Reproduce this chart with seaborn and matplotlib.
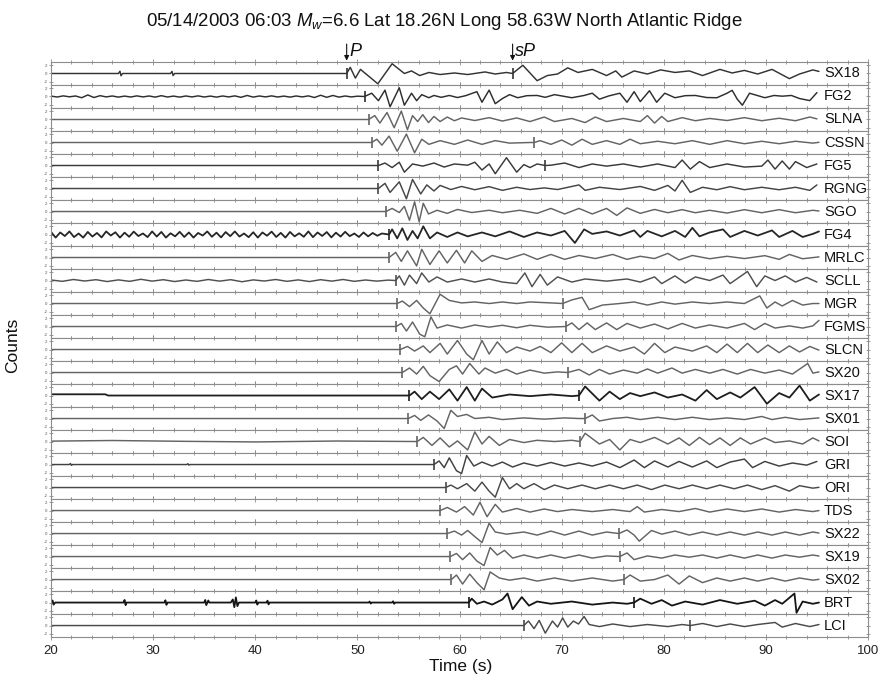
import numpy as np
import pandas as pd
import matplotlib
matplotlib.use("Agg")
import matplotlib.pyplot as plt
from matplotlib.transforms import blended_transform_factory
import seaborn as sns

# ---------------------------------------------------------------- data
STATIONS = ["SX18", "FG2", "SLNA", "CSSN", "FG5", "RGNG", "SGO", "FG4", "MRLC",
            "SCLL", "MGR", "FGMS", "SLCN", "SX20", "SX17", "SX01", "SOI", "GRI",
            "ORI", "TDS", "SX22", "SX19", "SX02", "BRT", "LCI"]

# first-arrival (P) picks, s
P_PICK = [48.95, 50.7, 51.1, 51.4, 52.06, 52.06, 52.8, 53.1, 53.1, 53.75, 53.9,
          53.8, 54.2, 54.4, 55.1, 55.0, 55.85, 57.5, 58.65, 58.1, 58.8, 59.1,
          59.2, 60.9, 66.3]

# depth-phase (sP) picks, s
SP_PICK = [65.2, None, None, 67.3, 68.4, None, None, None, None, None, 70.1,
           70.4, None, 70.6, 71.7, 72.3, 71.8, None, None, None, 75.6, 75.7,
           76.1, 77.1, 82.6]

PHASE_P_TIME = 48.95
PHASE_SP_TIME = 65.2
X_TICKS = [20, 30, 40, 50, 60, 70, 80, 90, 100]

# pre-event noise sampled at a fixed interval (s), normalised counts
FG4_NOISE_DT = 0.45
FG4_NOISE = [0.25, -0.3, 0.2, -0.15, 0.3, -0.25, 0.1, -0.3, 0.25, -0.2, 0.15,
             -0.28, 0.3, -0.1, 0.22, -0.3, 0.18, -0.22, 0.28, -0.15, 0.1, -0.25,
             0.3, -0.2, 0.25, -0.3, 0.12, -0.18, 0.26, -0.24, 0.2, -0.3, 0.15,
             -0.1, 0.3, -0.22, 0.18, -0.28, 0.24, -0.16, 0.3, -0.2, 0.1, -0.26,
             0.22, -0.3, 0.2, -0.12, 0.28, -0.24, 0.16, -0.3, 0.25, -0.18, 0.12,
             -0.22, 0.3, -0.26, 0.2, -0.14, 0.24, -0.28, 0.18, -0.2, 0.26, -0.16,
             0.1, -0.24, 0.2, -0.18, 0.15, -0.12, 0.1]
FG2_NOISE_DT = 0.6
FG2_NOISE = [0.04, -0.05, 0.06, -0.03, 0.05, -0.12, 0.15, -0.1, 0.08, -0.04,
             0.05, -0.06, 0.04, -0.05, 0.06, -0.04, 0.05, -0.06, 0.08, -0.05,
             0.04, -0.06, 0.05, -0.04, 0.06, -0.05, 0.04, -0.06, 0.05, -0.04,
             0.06, -0.08, 0.1, -0.06, 0.05, -0.04, 0.06, -0.05, 0.04, -0.06,
             0.05, -0.04, 0.06, -0.1, 0.12, -0.08, 0.1, -0.06, 0.05, -0.04, 0.03]
SCLL_NOISE_DT = 1.1
SCLL_NOISE = [0.05, -0.08, 0.1, -0.05, 0.08, -0.1, 0.06, -0.08, 0.12, -0.06,
              0.08, -0.1, 0.05, -0.08, 0.1, -0.06, 0.08, -0.12, 0.06, -0.05,
              0.1, -0.08, 0.06, -0.1, 0.08, -0.06, 0.1, -0.08, 0.05, -0.06, 0.04]

# pre-event features given as (time, amplitude)
SX18_PRE = [(20.0, 0.0), (26.6, 0.0), (26.75, 0.22), (26.85, -0.22), (27.0, 0.0),
            (31.7, 0.0), (31.85, 0.2), (31.95, -0.2), (32.1, 0.0)]
SX17_PRE = [(20.0, 0.12), (25.3, 0.12), (25.6, 0.0)]
SOI_PRE = [(20.0, 0.04), (26.0, 0.1), (33.0, 0.02), (40.0, -0.04), (48.0, 0.05)]
GRI_PRE = [(20.0, 0.0), (21.8, 0.0), (21.9, 0.1), (22.0, -0.08), (22.1, 0.0),
           (33.3, 0.0), (33.4, 0.08), (33.5, -0.06), (33.6, 0.0)]
BRT_PRE = [(20.0, 0.0), (20.15, 0.2), (20.25, -0.2), (20.4, 0.0), (27.1, 0.0),
           (27.2, 0.25), (27.3, -0.25), (27.4, 0.0), (31.1, 0.0), (31.2, 0.22),
           (31.3, -0.22), (31.4, 0.0), (35.0, 0.0), (35.1, 0.25), (35.2, -0.25),
           (35.4, 0.2), (35.5, 0.0), (37.6, 0.0), (37.8, 0.3), (37.95, -0.45),
           (38.1, 0.5), (38.25, -0.35), (38.4, 0.0), (40.0, 0.0), (40.1, 0.2),
           (40.2, -0.2), (40.3, 0.0), (41.1, 0.0), (41.2, 0.18), (41.3, -0.18),
           (41.4, 0.0), (51.1, 0.0), (51.2, 0.1), (51.3, -0.1), (51.4, 0.0),
           (53.4, 0.0), (53.5, 0.12), (53.6, -0.12), (53.7, 0.0)]

# waveforms after the P pick: (time s, normalised amplitude)
SX18 = [(49.3, 0.6), (49.8, -0.45), (50.3, 0.4), (52.0, -1.0), (53.4, 0.95),
        (54.6, 0.0), (55.3, 0.25), (56.1, -0.2), (57.0, 0.1), (58.1, -0.1),
        (59.5, 0.05), (60.8, -0.1), (62.5, 0.15), (63.5, -0.05), (64.6, 0.1),
        (65.2, 0.0), (66.2, 0.8), (67.6, -0.7), (68.6, -0.2), (69.6, -0.05),
        (70.6, 0.55), (71.6, 0.1), (73.0, 0.4), (74.4, -0.2), (75.3, 0.25),
        (75.9, -0.35), (77.1, 0.25), (78.4, -0.05), (79.7, 0.35), (81.1, 0.1),
        (82.5, 0.25), (83.8, -0.2), (85.5, 0.4), (86.7, 0.05), (87.9, 0.3),
        (89.2, -0.05), (90.6, 0.4), (92.3, -0.5), (93.3, -0.05), (94.6, 0.35),
        (95.2, 0.2)]
FG2 = [(51.4, 0.32), (52.06, -0.41), (52.7, 0.62), (53.2, -1.0), (54.1, 0.85),
       (54.6, -0.85), (55.3, 0.32), (55.8, -0.41), (56.3, 0.18), (57.0, -0.12),
       (57.5, 0.1), (58.2, -0.08), (59.0, 0.1), (59.8, -0.1), (60.6, 0.08),
       (61.7, 0.47), (62.2, -0.56), (62.9, 0.62), (63.5, -0.7), (64.2, -0.2),
       (64.9, 0.18), (65.7, -0.12), (66.6, 0.08), (67.6, 0.1), (68.4, -0.08),
       (69.3, 0.18), (71.0, -0.12), (72.2, 0.1), (73.0, 0.32), (73.7, -0.26),
       (74.6, 0.05), (75.7, 0.32), (76.4, -0.56), (77.1, 0.47), (77.7, -0.5),
       (78.6, 0.56), (79.3, -0.56), (80.1, 0.32), (81.1, -0.12), (82.1, 0.08),
       (83.1, 0.1), (84.2, -0.1), (85.2, -0.12), (86.2, 0.32), (86.7, 0.6),
       (87.2, -0.26), (87.7, -0.85), (88.4, 0.32), (89.9, -0.12), (90.8, 0.1),
       (91.6, 0.03), (92.5, 0.1), (93.3, -0.2), (94.3, -0.4), (95.0, 0.38)]
SLNA = [(51.7, 0.38), (52.2, -0.35), (52.9, 0.68), (53.6, -0.8), (54.3, 0.82),
        (54.9, -1.0), (55.4, 0.38), (55.9, -0.2), (56.4, 0.47), (56.96, -0.3),
        (57.5, 0.3), (58.1, -0.2), (58.8, 0.24), (59.5, -0.12), (60.2, 0.15),
        (61.5, -0.1), (62.9, 0.18), (64.2, -0.15), (65.6, 0.15), (66.9, -0.2),
        (68.3, 0.24), (69.3, -0.2), (71.0, 0.1), (72.3, -0.3), (73.3, 0.24),
        (74.4, -0.2), (76.05, 0.1), (77.7, -0.2), (78.4, 0.38), (79.1, -0.35),
        (79.8, 0.3), (80.4, -0.2), (81.8, 0.18), (83.1, -0.12), (84.5, 0.1),
        (86.2, -0.1), (87.9, 0.18), (89.6, -0.12), (91.3, 0.12), (92.9, -0.12),
        (94.3, 0.24), (95.0, 0.06)]
CSSN = [(51.9, 0.32), (52.4, -0.26), (53.1, 0.62), (53.9, -0.85), (54.8, 0.82),
        (55.6, -1.0), (56.3, 0.32), (57.0, -0.18), (58.1, 0.18), (59.5, -0.18),
        (60.8, 0.24), (62.2, -0.18), (63.5, 0.18), (64.9, -0.06), (66.9, 0.0),
        (67.3, 0.0), (67.9, 0.18), (68.95, -0.18), (70.0, 0.24), (71.0, -0.26),
        (72.0, 0.32), (73.0, -0.18), (74.4, 0.18), (75.7, -0.18), (76.7, 0.32),
        (77.7, -0.12), (79.4, 0.12), (81.1, -0.12), (82.8, 0.18), (84.5, -0.18),
        (86.2, 0.18), (87.9, -0.12), (89.6, 0.12), (91.3, -0.12), (92.9, 0.12),
        (94.6, -0.06), (95.2, 0.02)]
FG5 = [(52.7, 0.24), (53.4, -0.2), (54.1, 0.32), (54.6, -0.65), (55.4, 0.15),
       (56.4, -0.06), (57.5, 0.24), (58.5, -0.15), (59.5, 0.15), (60.8, 0.03),
       (61.5, 0.32), (62.2, -0.44), (62.9, 0.15), (63.5, -0.8), (64.6, 0.76),
       (65.6, -0.65), (66.3, 0.09), (66.9, -0.2), (67.6, 0.15), (68.4, 0.0),
       (68.95, 0.03), (70.3, 0.24), (71.7, -0.2), (73.0, 0.15), (74.4, -0.06),
       (76.05, 0.15), (77.7, -0.15), (79.4, 0.15), (81.1, -0.2), (81.8, 0.53),
       (82.6, -0.35), (83.5, 0.38), (84.5, -0.2), (86.2, 0.15), (87.9, -0.15),
       (89.6, -0.06), (90.2, 0.53), (90.9, -0.35), (91.6, 0.44), (92.3, -0.35),
       (92.9, 0.38), (94.0, -0.2), (95.0, 0.15)]
RGNG = [(52.7, 0.5), (53.2, -0.38), (54.1, 0.65), (54.8, -1.0), (55.4, 0.88),
        (56.2, -0.53), (56.8, 0.35), (57.5, -0.24), (58.1, 0.3), (59.15, -0.1),
        (60.2, 0.2), (61.5, -0.12), (62.9, 0.18), (64.2, -0.18), (65.6, 0.12),
        (66.9, -0.1), (68.3, 0.06), (69.6, -0.1), (71.7, 0.35), (72.3, -0.18),
        (73.7, 0.12), (75.7, -0.1), (77.7, 0.2), (79.1, -0.18), (80.4, 0.3),
        (81.1, -0.24), (81.8, 0.8), (82.6, -0.38), (83.8, 0.12), (85.2, -0.12),
        (86.5, 0.18), (87.9, -0.12), (89.6, 0.12), (91.3, -0.12), (92.9, 0.12),
        (94.3, -0.18), (95.0, 0.35)]
SGO = [(53.4, 0.3), (54.1, -0.1), (54.6, 0.5), (55.1, -0.85), (55.6, 0.95),
       (56.05, -1.0), (56.45, 0.8), (56.96, -0.24), (57.8, 0.12), (58.8, -0.18),
       (59.8, 0.2), (61.2, -0.1), (62.9, 0.12), (64.2, -0.12), (65.9, 0.12),
       (67.6, -0.18), (68.95, 0.3), (70.3, -0.24), (71.7, 0.3), (73.0, -0.24),
       (74.4, 0.3), (75.4, -0.38), (76.4, 0.35), (77.7, -0.18), (79.1, 0.2),
       (80.4, -0.12), (81.8, 0.18), (83.1, -0.12), (84.5, 0.12), (86.2, -0.15),
       (87.9, 0.18), (89.6, -0.12), (91.3, 0.18), (92.9, -0.12), (94.6, 0.12),
       (95.2, 0.05)]
FG4 = [(53.4, 0.5), (53.9, -0.38), (54.4, 0.6), (54.9, -0.53), (55.4, 0.35),
       (55.9, -0.38), (56.45, 0.8), (57.1, -0.38), (57.8, 0.2), (58.8, -0.24),
       (59.8, 0.2), (60.8, -0.18), (62.2, 0.2), (63.5, -0.18), (64.9, 0.3),
       (66.3, -0.24), (67.6, 0.2), (68.95, -0.1), (70.3, 0.35), (71.3, -0.82),
       (72.2, 0.5), (73.0, 0.06), (74.4, 0.3), (75.7, -0.1), (77.1, 0.4),
       (77.7, -0.24), (78.4, 0.35), (79.8, -0.18), (81.1, 0.35), (82.1, -0.24),
       (82.8, 0.65), (83.5, -0.18), (84.5, 0.2), (85.8, 0.5), (86.5, -0.24),
       (87.9, 0.35), (89.2, -0.1), (90.6, 0.4), (91.3, -0.24), (92.6, 0.35),
       (93.6, -0.24), (94.6, 0.06), (95.2, 0.3)]
MRLC = [(53.75, 0.5), (54.3, -0.38), (54.9, 0.65), (55.8, -0.82), (56.3, 0.8),
        (57.1, -0.68), (58.0, 0.65), (58.8, -0.53), (59.7, 0.7), (60.5, -0.53),
        (61.2, 0.65), (62.2, -0.38), (63.2, 0.2), (64.6, -0.18), (66.3, 0.35),
        (67.6, -0.18), (68.95, 0.3), (70.3, -0.18), (71.7, 0.2), (73.3, -0.1),
        (75.0, 0.3), (76.4, -0.18), (77.7, 0.12), (79.1, -0.1), (80.4, 0.4),
        (81.5, -0.24), (82.8, 0.2), (84.5, -0.12), (86.2, 0.12), (87.9, -0.1),
        (89.9, 0.18), (91.3, -0.18), (92.3, 0.3), (93.6, -0.12), (95.2, 0.06)]
SCLL = [(54.1, 0.45), (54.6, -0.45), (55.1, 0.53), (55.8, -0.3), (56.3, 0.74),
        (57.0, -0.15), (57.8, 0.35), (58.8, -0.15), (60.2, 0.15), (61.5, -0.15),
        (62.9, 0.15), (64.2, -0.15), (65.6, -0.3), (66.4, 0.74), (67.1, -0.6),
        (67.9, 0.6), (68.6, -0.45), (69.6, 0.35), (71.0, -0.15), (72.3, 0.15),
        (74.4, -0.06), (76.4, 0.15), (77.7, -0.15), (79.1, 0.35), (79.8, -0.3),
        (81.1, 0.45), (82.1, -0.24), (83.1, 0.35), (84.5, 0.0), (85.8, 0.53),
        (86.5, -0.3), (88.2, 0.88), (89.1, -0.6), (89.9, 0.45), (90.9, 0.0),
        (91.9, 0.45), (92.9, -0.15), (94.0, 0.3), (95.0, -0.15)]
MGR = [(54.4, 0.24), (55.1, -0.3), (55.8, 0.3), (56.45, -0.44), (57.1, -1.0),
       (58.1, 0.9), (59.0, 0.3), (60.2, 0.06), (61.5, 0.15), (62.9, 0.0),
       (64.2, 0.15), (65.6, 0.0), (66.9, 0.15), (68.95, 0.06), (70.1, 0.0),
       (71.0, 0.35), (72.0, 0.6), (72.7, -0.6), (74.0, -0.15), (75.7, 0.0),
       (77.1, 0.15), (78.4, -0.15), (79.8, 0.15), (81.1, -0.06), (82.8, 0.15),
       (84.5, 0.0), (86.2, 0.15), (87.9, 0.0), (89.4, 0.74), (90.1, -0.44),
       (90.9, 0.15), (91.6, -0.24), (92.6, 0.3), (93.6, -0.15), (94.6, 0.0),
       (95.2, 0.0)]
FGMS = [(54.3, 0.3), (54.8, -0.44), (55.4, 0.44), (56.1, -0.74), (56.6, -1.0),
        (57.2, 0.94), (57.8, -0.15), (58.8, 0.15), (60.2, -0.15), (61.5, 0.15),
        (62.9, -0.06), (64.2, 0.12), (65.6, -0.12), (66.9, 0.12), (68.6, -0.06),
        (70.4, 0.0), (71.0, 0.35), (71.7, -0.3), (72.5, 0.35), (73.3, -0.3),
        (74.4, 0.35), (75.4, -0.3), (76.4, 0.3), (77.7, -0.15), (79.1, 0.24),
        (80.4, -0.24), (81.8, 0.3), (83.1, -0.15), (84.5, 0.15), (86.2, -0.15),
        (87.9, 0.3), (88.9, -0.3), (89.9, 0.3), (90.9, -0.15), (92.3, 0.06),
        (93.6, -0.15), (94.6, 0.06), (95.2, 0.6)]
SLCN = [(54.9, 0.3), (55.6, -0.15), (56.45, 0.35), (57.1, -0.3), (58.1, 0.6),
        (58.8, -0.44), (59.8, 0.88), (60.7, -0.44), (61.35, -1.0), (62.2, 0.88),
        (62.9, -0.44), (63.7, 0.74), (64.6, -0.3), (65.6, 0.24), (66.9, -0.15),
        (67.9, 0.3), (68.95, -0.3), (70.0, 0.65), (71.0, -0.3), (72.0, 0.6),
        (73.0, -0.3), (74.4, 0.35), (75.7, -0.15), (77.1, 0.24), (78.1, -0.44),
        (79.1, 0.6), (80.1, -0.3), (81.1, 0.24), (82.8, -0.15), (84.2, 0.35),
        (85.2, -0.3), (86.2, 0.53), (87.2, -0.3), (88.2, 0.6), (89.2, -0.3),
        (90.2, 0.44), (91.3, -0.3), (92.3, 0.35), (93.3, -0.24), (94.3, 0.3),
        (95.2, -0.06)]
SX20 = [(55.1, 0.44), (55.8, -0.15), (56.45, 0.6), (57.1, -0.3), (58.0, -0.88),
        (59.0, 0.3), (59.7, 0.65), (60.3, -0.15), (61.0, 0.88), (61.9, -0.15),
        (62.5, 0.44), (63.5, -0.06), (64.6, 0.3), (65.6, -0.15), (66.9, 0.24),
        (68.3, -0.06), (69.6, 0.06), (70.6, 0.0), (71.7, 0.3), (72.7, -0.24),
        (73.7, 0.3), (74.7, -0.15), (76.05, 0.24), (77.4, -0.06), (78.4, 0.35),
        (79.4, -0.06), (80.8, 0.44), (81.8, -0.06), (83.1, 0.3), (84.5, -0.06),
        (85.8, 0.3), (87.2, -0.15), (88.5, 0.3), (89.9, -0.06), (91.3, 0.24),
        (92.6, -0.15), (94.1, 0.88), (94.6, -0.06), (95.2, 0.06)]
SX17 = [(55.6, 0.38), (56.3, -0.35), (57.1, 0.38), (58.0, -0.35), (59.0, 0.6),
        (59.8, -0.5), (60.7, 0.82), (61.5, -0.5), (62.2, 0.68), (63.2, -0.2),
        (64.9, 0.1), (66.9, -0.06), (68.95, 0.1), (71.0, -0.06), (71.7, 0.0),
        (72.3, 0.88), (73.7, -0.5), (74.7, 0.38), (75.7, -0.35), (76.7, 0.24),
        (77.7, -0.06), (79.1, 0.3), (80.4, -0.2), (81.8, 0.1), (83.1, -0.5),
        (84.2, 0.53), (85.2, -0.35), (86.5, 0.3), (87.5, -0.2), (88.9, 0.82),
        (90.1, -0.8), (91.3, 0.24), (92.3, -0.2), (93.3, 0.97), (94.3, -0.5),
        (95.2, 0.1)]
SX01 = [(55.6, 0.3), (56.2, -0.18), (56.96, 0.35), (57.8, -0.24), (58.5, -0.97),
        (59.15, 0.8), (59.8, 0.2), (60.7, 0.4), (61.5, 0.0), (62.9, 0.12),
        (64.2, -0.1), (66.3, 0.06), (68.3, -0.06), (70.3, 0.06), (71.7, 0.0),
        (72.3, 0.0), (73.0, 0.35), (73.7, -0.24), (75.0, 0.0), (76.4, 0.12),
        (77.7, -0.1), (79.4, 0.12), (81.1, -0.1), (82.8, 0.12), (84.5, -0.1),
        (86.2, 0.06), (87.9, -0.1), (89.6, 0.2), (90.6, -0.1), (91.9, 0.12),
        (93.3, -0.1), (95.2, 0.06)]
SOI = [(56.45, 0.4), (57.3, -0.38), (58.1, 0.35), (59.0, -0.53), (59.8, 0.06),
       (60.8, -0.82), (61.5, 0.94), (62.2, -0.24), (62.9, 0.5), (63.9, -0.38),
       (64.9, 0.2), (66.3, -0.1), (67.6, 0.12), (69.3, 0.0), (71.0, 0.12),
       (71.8, 0.0), (72.3, 0.8), (73.7, -0.24), (74.7, 0.2), (75.7, -0.82),
       (76.7, 0.2), (77.7, -0.1), (79.1, 0.4), (80.4, -0.24), (81.5, 0.35),
       (82.5, -0.38), (83.5, 0.4), (84.5, -0.3), (85.5, 0.35), (86.5, -0.38),
       (87.5, 0.35), (88.5, -0.24), (89.9, 0.35), (90.9, -0.1), (92.3, 0.06),
       (93.6, -0.24), (94.6, 0.35), (95.2, 0.06)]
GRI = [(58.0, 0.35), (58.5, -0.3), (59.0, 0.65), (59.7, -0.6), (60.2, -0.88),
       (60.7, 0.88), (61.4, -0.15), (62.2, 0.24), (63.2, -0.15), (64.2, 0.24),
       (65.2, -0.24), (66.3, 0.15), (67.6, -0.15), (68.95, 0.2), (70.3, -0.15),
       (71.7, 0.15), (73.0, -0.15), (74.4, 0.24), (75.7, -0.3), (77.1, 0.44),
       (78.1, -0.3), (79.1, 0.35), (80.4, -0.24), (81.5, 0.3), (82.8, -0.24),
       (84.2, 0.35), (85.2, -0.3), (86.5, 0.24), (87.9, 0.53), (88.7, -0.3),
       (89.9, 0.3), (91.3, -0.15), (92.6, 0.15), (94.0, -0.06), (95.0, 0.3)]
ORI = [(59.15, 0.24), (59.8, -0.12), (60.7, 0.38), (61.5, -0.35), (62.2, 0.53),
       (62.9, -0.35), (63.5, -0.94), (64.2, 0.97), (64.9, -0.12), (65.6, 0.38),
       (66.3, -0.12), (67.3, 0.38), (68.3, -0.2), (69.3, 0.24), (70.6, -0.12),
       (72.0, 0.24), (73.3, -0.12), (74.7, 0.24), (76.05, -0.12), (77.4, 0.24),
       (78.8, -0.2), (80.1, 0.24), (81.5, -0.12), (82.8, 0.24), (84.2, -0.12),
       (85.5, 0.24), (86.9, -0.12), (88.2, 0.24), (89.6, -0.2), (90.9, 0.18),
       (92.3, -0.35), (93.3, 0.18), (94.6, -0.06), (95.2, 0.02)]
TDS = [(58.8, 0.3), (59.7, -0.15), (60.5, 0.38), (61.35, -0.44), (62.0, 0.8),
       (62.7, -0.6), (63.5, 0.6), (64.2, -0.15), (65.6, 0.2), (66.9, -0.15),
       (68.3, 0.15), (69.6, -0.1), (71.0, 0.1), (73.0, -0.1), (75.0, 0.1),
       (76.7, -0.1), (77.4, 0.38), (78.1, -0.15), (79.8, 0.1), (81.5, -0.1),
       (83.1, 0.2), (84.5, -0.15), (86.2, 0.15), (87.9, -0.1), (89.6, 0.15),
       (91.3, -0.15), (92.9, 0.1), (94.6, -0.1), (95.2, 0.0)]
SX22 = [(59.5, 0.24), (60.2, -0.15), (60.8, 0.3), (61.5, -0.3), (62.2, -0.88),
        (62.9, 1.0), (63.5, 0.15), (64.6, -0.06), (66.3, 0.15), (67.6, -0.15),
        (68.95, 0.24), (70.3, -0.15), (71.7, 0.24), (73.0, -0.15), (74.4, 0.15),
        (75.6, 0.0), (76.4, 0.35), (77.1, -0.15), (77.6, -0.74), (78.8, 0.3),
        (79.8, -0.06), (81.1, 0.24), (82.5, -0.15), (83.8, 0.15), (85.2, -0.15),
        (86.5, 0.15), (87.9, -0.15), (89.2, 0.15), (90.6, -0.15), (91.9, 0.15),
        (93.3, -0.15), (94.6, 0.15), (95.2, 0.05)]
SX19 = [(59.7, 0.3), (60.3, -0.3), (61.0, 0.35), (61.7, -0.44), (62.4, -0.88),
        (63.0, 0.88), (63.7, 0.15), (64.4, 0.6), (65.2, -0.15), (66.3, 0.15),
        (67.6, -0.15), (68.95, 0.15), (70.3, -0.15), (71.7, 0.15), (73.0, -0.15),
        (74.4, 0.06), (75.7, 0.0), (76.4, 0.35), (77.1, -0.3), (78.4, 0.06),
        (79.8, -0.15), (81.1, 0.15), (82.5, -0.06), (83.8, 0.15), (85.2, -0.15),
        (86.5, 0.15), (87.9, -0.15), (89.2, 0.15), (90.6, -0.15), (91.9, 0.15),
        (93.3, -0.06), (94.6, 0.15), (95.2, 0.05)]
SX02 = [(59.7, 0.44), (60.3, -0.44), (61.0, 0.53), (61.7, -0.3), (62.4, -1.0),
        (63.0, 0.74), (63.9, 0.15), (64.9, -0.06), (66.3, 0.15), (67.6, -0.15),
        (69.3, 0.15), (71.0, -0.15), (73.0, 0.15), (75.0, -0.15), (76.1, 0.0),
        (76.7, 0.44), (77.7, -0.15), (79.1, 0.0), (80.4, 0.44), (81.5, -0.44),
        (82.5, 0.35), (83.8, -0.3), (85.2, 0.15), (86.5, -0.15), (87.9, 0.15),
        (89.2, -0.15), (90.6, 0.15), (91.9, -0.15), (93.3, 0.15), (94.6, -0.06),
        (95.2, 0.02)]
BRT = [(61.2, 0.38), (61.7, -0.12), (62.4, 0.1), (63.2, -0.2), (64.2, 0.3),
       (64.7, 0.88), (65.2, -0.65), (66.1, 0.53), (66.8, -0.3), (67.6, 0.1),
       (68.95, -0.12), (71.0, 0.1), (73.0, -0.2), (75.0, 0.0), (76.4, -0.12),
       (77.1, 0.0), (77.7, 0.38), (78.8, -0.12), (79.8, 0.24), (80.8, -0.3),
       (82.1, 0.1), (83.8, -0.2), (85.5, 0.24), (87.2, -0.12), (88.9, 0.18),
       (89.9, -0.3), (90.9, 0.24), (91.6, -0.12), (92.8, 0.88), (93.0, -1.0),
       (93.6, 0.1), (94.6, -0.12), (95.2, 0.0)]
LCI = [(66.75, 0.44), (67.3, -0.3), (67.8, 0.5), (68.4, -0.74), (69.1, 0.44),
       (69.6, -0.15), (70.1, 0.74), (70.6, -0.15), (71.15, 0.44), (71.65, 0.15),
       (72.2, 0.88), (72.7, 0.1), (73.7, -0.1), (75.0, 0.15), (76.7, -0.1),
       (78.4, 0.1), (80.4, -0.1), (81.8, 0.1), (82.6, 0.0), (83.8, 0.2),
       (85.2, -0.1), (86.5, 0.15), (87.9, -0.1), (89.2, 0.1), (90.9, 0.3),
       (91.6, -0.15), (92.9, 0.2), (94.3, -0.1), (95.2, 0.1)]

# ---------------------------------------------------------------- assembly
WAVES = [SX18, FG2, SLNA, CSSN, FG5, RGNG, SGO, FG4, MRLC, SCLL, MGR, FGMS,
         SLCN, SX20, SX17, SX01, SOI, GRI, ORI, TDS, SX22, SX19, SX02, BRT, LCI]


def sampled(values, dt, start=20.0):
    return [(start + i * dt, v) for i, v in enumerate(values)]


PRE = {
    "SX18": SX18_PRE,
    "FG2": sampled(FG2_NOISE, FG2_NOISE_DT),
    "FG4": sampled(FG4_NOISE, FG4_NOISE_DT),
    "SCLL": sampled(SCLL_NOISE, SCLL_NOISE_DT),
    "SX17": SX17_PRE,
    "SOI": SOI_PRE,
    "GRI": GRI_PRE,
    "BRT": BRT_PRE,
}

# line shade / weight per trace
SHADE = {"SX18": "#333333", "FG2": "#2e2e2e", "FG5": "#3a3a3a", "RGNG": "#454545",
         "FG4": "#262626", "SCLL": "#505050", "SX17": "#1e1e1e", "GRI": "#404040",
         "ORI": "#4a4a4a", "BRT": "#151515", "LCI": "#4a4a4a"}
DEFAULT_SHADE = "#646464"
HEAVY = {"SX17", "BRT", "FG4"}

frames = []
for name, pick, wave in zip(STATIONS, P_PICK, WAVES):
    pre = [p for p in PRE.get(name, [(20.0, 0.0)]) if p[0] < pick]
    pts = pre + [(pick, 0.0)] + wave
    df = pd.DataFrame(pts, columns=["time", "amp"])
    df["station"] = name
    frames.append(df)
traces = pd.concat(frames, ignore_index=True)

# ---------------------------------------------------------------- style
sns.set_theme(style="ticks")
plt.rcParams["font.family"] = ["Liberation Sans", "DejaVu Sans"]
plt.rcParams["mathtext.fontset"] = "custom"
plt.rcParams["mathtext.rm"] = "Liberation Sans"
plt.rcParams["mathtext.it"] = "Liberation Sans:italic"

FRAME = "#8c8c8c"

fig = plt.figure(figsize=(8.83, 6.85), dpi=100)
axes = fig.subplots(len(STATIONS), 1, sharex=True)
fig.subplots_adjust(left=0.0578, right=0.983, top=0.9095, bottom=0.070, hspace=0)

for i, (ax, name) in enumerate(zip(axes, STATIONS)):
    sub = traces[traces["station"] == name]
    color = SHADE.get(name, DEFAULT_SHADE)
    lw = 1.3 if name in HEAVY else 1.05
    sns.lineplot(data=sub, x="time", y="amp", ax=ax, sort=False, estimator=None,
                 color=color, linewidth=lw, legend=False)
    picks = [P_PICK[i]] + ([SP_PICK[i]] if SP_PICK[i] is not None else [])
    ax.vlines(picks, -0.5, 0.5, color=color, linewidth=1.2)
    ax.text(95.7, 0.0, name, fontsize=10.5, va="center", ha="left",
            color="#111111")

    ax.set_xlim(20, 100)
    ax.set_ylim(-1.12, 1.12)
    ax.set_xlabel("")
    ax.set_ylabel("")
    for side in ["top", "bottom", "left", "right"]:
        ax.spines[side].set_visible(True)
        ax.spines[side].set_color(FRAME)
        ax.spines[side].set_linewidth(0.8)
    ax.set_xticks(X_TICKS)
    ax.set_xticks(np.arange(20, 101, 2), minor=True)
    ax.set_yticks([-0.8, 0.0, 0.8])
    ax.set_yticklabels(["-2", "0", "2"])
    ax.tick_params(axis="x", which="both", direction="inout", top=True,
                   bottom=True, color=FRAME, width=0.6)
    ax.tick_params(axis="x", which="major", length=4)
    ax.tick_params(axis="x", which="minor", length=3)
    ax.tick_params(axis="y", which="both", direction="inout", left=True,
                   right=True, length=3, width=0.6, color=FRAME,
                   labelsize=3.2, labelcolor="#555555", pad=1)
    if i < len(STATIONS) - 1:
        ax.tick_params(axis="x", labelbottom=False)
    else:
        ax.tick_params(axis="x", labelsize=9.5, labelcolor="#222222", pad=4)

# phase markers above the top trace
top = axes[0]
trans = blended_transform_factory(top.transData, top.transAxes)
for t, label in [(PHASE_P_TIME, "P"), (PHASE_SP_TIME, "sP")]:
    top.annotate("", xy=(t, 1.06), xytext=(t, 1.78), xycoords=trans,
                 textcoords=trans, annotation_clip=False,
                 arrowprops=dict(arrowstyle="-|>", color="#111111", lw=0.8,
                                 mutation_scale=7, shrinkA=0, shrinkB=0))
    top.text(t + 0.25, 1.1, label, transform=trans, fontsize=13,
             style="italic", ha="left", va="bottom", color="#111111",
             clip_on=False)

fig.text(0.503, 1 - 22 / 685,
         "05/14/2003 06:03 $M_w$=6.6 Lat 18.26N Long 58.63W North Atlantic Ridge",
         ha="center", va="center", fontsize=13.4, color="#111111")
fig.text(461 / 883, 1 - 666 / 685, "Time (s)", ha="center", va="center",
         fontsize=12.5, color="#111111")
fig.text(13 / 883, 1 - 345 / 685, "Counts", ha="center", va="center",
         rotation=90, fontsize=12.5, color="#111111")

fig.savefig("out.png", dpi=100, facecolor="white")
